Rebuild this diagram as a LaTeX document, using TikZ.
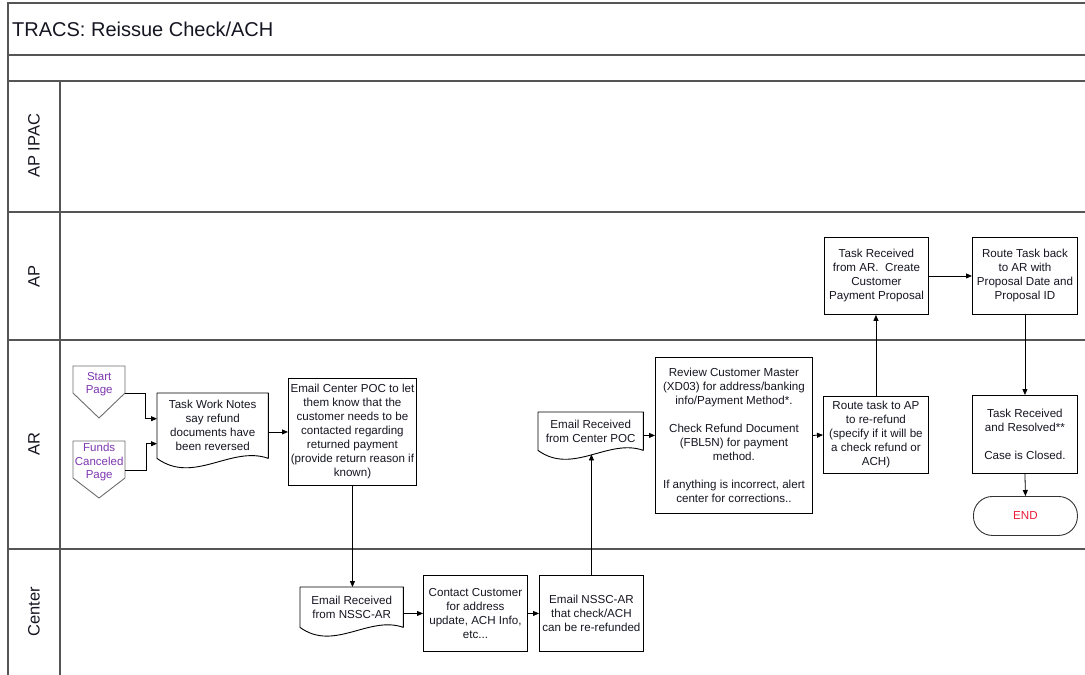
\documentclass[tikz,border=0pt]{standalone}
\usepackage{fontspec}
\setmainfont{Liberation Sans}
\usetikzlibrary{arrows.meta,calc}

\definecolor{lanegray}{RGB}{85,85,85}
\definecolor{pagegray}{RGB}{110,110,110}
\definecolor{pagepurple}{RGB}{125,55,175}
\definecolor{endred}{RGB}{235,25,55}
\definecolor{inkblack}{RGB}{22,22,34}

% off-page connector outline: name, width, straight side height, tip depth
\newcommand\offpageshape[4]{%
  \draw[pageline] (#1.north west) -- ++(#2,0) -- ++(0,#3) -- ++(-#2/2,#4) -- ++(-#2/2,-#4) -- cycle;}
% document outline with wavy bottom edge: name, width
\newcommand\docshape[2]{%
  \draw[docline] (#1.south east) -- (#1.north east) -- (#1.north west) -- (#1.south west)
    .. controls ($(#1.south west)+(0.33*#2,0.24*#2)$) and ($(#1.south west)+(0.67*#2,-0.12*#2)$) .. (#1.south east);}

\begin{document}
\begin{tikzpicture}[x=1pt,y=-1pt,
  lane/.style={draw=lanegray, line width=1.4pt},
  txt/.style={font=\fontsize{11.6}{14}\selectfont, text=inkblack, align=center, inner sep=0pt},
  stepbox/.style={txt, draw=black, line width=0.9pt, anchor=north west},
  docbox/.style={txt, anchor=north west},
  docline/.style={draw=black, line width=0.9pt, line join=round},
  pagebox/.style={align=center, inner sep=0pt, anchor=north west, text=pagepurple,
    minimum width=52pt, font=\fontsize{11.5}{13.5}\selectfont},
  pageline/.style={draw=pagegray, line width=0.9pt, line join=miter},
  arr/.style={draw=black, line width=0.8pt, -{Triangle[length=6pt,width=5pt]}},
  lanelabel/.style={rotate=90, font=\fontsize{16.5}{20}\selectfont, text=inkblack}
]
\useasboundingbox[fill=white] (0,0) rectangle (1085,675);

% pool frame and swimlanes
\draw[lane] (1085,3) -- (8,3) -- (8,675);
\draw[lane] (8,55) -- (1085,55);
\draw[lane] (8,81) -- (1085,81);
\draw[lane] (60,81) -- (60,675);
\foreach \yy in {212,340,549} \draw[lane] (8,\yy) -- (1085,\yy);

\node[anchor=west, inner sep=0pt, font=\fontsize{20}{23}\selectfont, text=inkblack] (title) at (12,29) {TRACS: Reissue Check/ACH};

\node[lanelabel] (lipac) at (34,146) {AP IPAC};
\node[lanelabel] (lap) at (34,276) {AP};
\node[lanelabel] (lar) at (34,444) {AR};
\node[lanelabel] (lcenter) at (34,612) {Center};

% entry points
\node[pagebox, minimum height=36pt] (start) at (73,366) {Start\\Page};
\offpageshape{start}{52}{27}{25}
\node[pagebox, minimum height=42pt] (funds) at (73,441) {Funds\\Canceled\\Page};
\offpageshape{funds}{52}{37}{20}

% documents
\node[docbox, minimum width=111pt, minimum height=65pt] (notes) at (157,393)
  {Task Work Notes\\say refund\\documents have\\been reversed};
\docshape{notes}{111}
\node[docbox, minimum width=103pt, minimum height=40pt] (recvnssc) at (300,587)
  {Email Received\\from NSSC-AR};
\docshape{recvnssc}{103}
\node[docbox, minimum width=105pt, minimum height=38pt] (recvpoc) at (538,412)
  {Email Received\\from Center POC};
\docshape{recvpoc}{105}

% process steps
\node[stepbox, minimum width=128pt, minimum height=107pt] (emailpoc) at (288,378)
  {Email Center POC to let\\them know that the\\customer needs to be\\contacted regarding\\returned payment\\(provide return reason if\\known)};
\node[stepbox, minimum width=104pt, minimum height=76pt] (contact) at (423,575)
  {Contact Customer\\for address\\update, ACH Info,\\etc...};
\node[stepbox, minimum width=104pt, minimum height=76pt] (emailnssc) at (539,575)
  {Email NSSC-AR\\that check/ACH\\can be re-refunded};
\node[stepbox, minimum width=157pt, minimum height=156pt] (review) at (655,357)
  {Review Customer Master\\(XD03) for address/banking\\info/Payment Method*.\\[14pt]Check Refund Document\\(FBL5N) for payment\\method.\\[14pt]If anything is incorrect, alert\\center for corrections..};
\node[stepbox, minimum width=105pt, minimum height=77pt] (route) at (823,396)
  {Route task to AP\\to re-refund\\(specify if it will be\\a check refund or\\ACH)};
\node[stepbox, minimum width=104pt, minimum height=77pt] (taskrec) at (824,237)
  {Task Received\\from AR.\ \ Create\\Customer\\Payment Proposal};
\node[stepbox, minimum width=105pt, minimum height=77pt] (routeback) at (972,237)
  {Route Task back\\to AR with\\Proposal Date and\\Proposal ID};
\node[stepbox, minimum width=105pt, minimum height=78pt] (resolved) at (972,395)
  {Task Received\\and Resolved**\\[14pt]Case is Closed.};
\node[stepbox, draw=black!80, rounded corners=19pt, minimum width=104pt, minimum height=39pt, text=endred] (finish) at (973,496) {END};

% flow
\draw[arr] ([yshift=-9pt]start.east) -- ++(20,0) |- ([yshift=7pt]notes.west);
\draw[arr] ([yshift=-8pt]funds.east) -- ++(21,0) |- ([yshift=-18pt]notes.west);
\draw[arr] (notes.east |- emailpoc.west) -- (emailpoc.west);
\draw[arr] (emailpoc.south) -- (emailpoc.south |- recvnssc.north);
\draw[arr] (recvnssc.east |- contact.west) -- (contact.west);
\draw[arr] (contact.east) -- (emailnssc.west);
\draw[arr] (emailnssc.north) -- ([yshift=-4pt]emailnssc.north |- recvpoc.south);
\draw[arr] (recvpoc.east |- review.west) -- (review.west);
\draw[arr] (review.east) -- (route.west);
\draw[arr] (route.north) -- (route.north |- taskrec.south);
\draw[arr] (taskrec.east) -- (routeback.west);
\draw[arr] (routeback.south) -- (resolved.north);
\draw[arr] (resolved.south) -- (finish.north);
\end{tikzpicture}
\end{document}
